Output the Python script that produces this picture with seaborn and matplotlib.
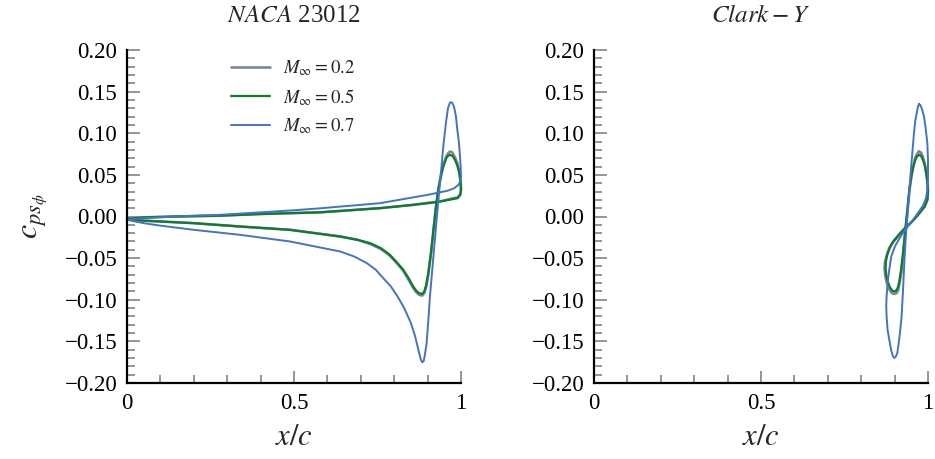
import matplotlib
matplotlib.use("Agg")
import matplotlib.pyplot as plt
from matplotlib.ticker import MultipleLocator, FuncFormatter
import seaborn as sns

# NACA 23012 paths (lower side 0 -> 1, then back along upper side 1 -> 0)
naca_x_m02 = [0.0, 0.05, 0.1, 0.2, 0.338, 0.488, 0.638, 0.69, 0.728, 0.76, 0.787, 0.81, 0.827,
              0.843, 0.857, 0.866, 0.874, 0.884, 0.890, 0.896, 0.902, 0.910, 0.917, 0.924,
              0.932, 0.940, 0.947, 0.957, 0.962, 0.967, 0.974, 0.982, 0.989, 0.995, 0.999,
              1.0, 0.998, 0.99, 0.977, 0.937, 0.857, 0.757, 0.578, 0.4, 0.278, 0.15, 0.05, 0.0]
naca_cp_m02 = [-0.003, -0.005, -0.006, -0.008, -0.012, -0.016, -0.024, -0.028, -0.033, -0.039,
               -0.047, -0.057, -0.065, -0.076, -0.086, -0.091, -0.094, -0.095, -0.092, -0.084,
               -0.070, -0.045, -0.019, 0.008, 0.033, 0.050, 0.062, 0.073, 0.076, 0.078, 0.077,
               0.071, 0.064, 0.054, 0.042, 0.033, 0.027, 0.023, 0.022, 0.018, 0.014, 0.010,
               0.005, 0.003, 0.001, 0.0, -0.001, -0.003]

naca_x_m05 = [0.0, 0.05, 0.1, 0.2, 0.338, 0.488, 0.638, 0.69, 0.728, 0.76, 0.787, 0.81, 0.827,
              0.843, 0.857, 0.866, 0.874, 0.884, 0.890, 0.896, 0.902, 0.910, 0.917, 0.924,
              0.932, 0.940, 0.947, 0.957, 0.962, 0.967, 0.974, 0.982, 0.989, 0.995, 0.999,
              1.0, 0.998, 0.99, 0.977, 0.937, 0.857, 0.757, 0.578, 0.4, 0.278, 0.15, 0.05, 0.0]
naca_cp_m05 = [-0.003, -0.005, -0.006, -0.008, -0.012, -0.016, -0.024, -0.028, -0.032, -0.038,
               -0.046, -0.056, -0.064, -0.074, -0.084, -0.089, -0.092, -0.093, -0.090, -0.082,
               -0.068, -0.044, -0.018, 0.008, 0.032, 0.048, 0.060, 0.071, 0.073, 0.074, 0.073,
               0.068, 0.061, 0.052, 0.040, 0.032, 0.026, 0.022, 0.021, 0.018, 0.014, 0.010,
               0.005, 0.003, 0.001, 0.0, -0.001, -0.003]

naca_x_m07 = [0.0, 0.05, 0.1, 0.2, 0.338, 0.488, 0.638, 0.68, 0.718, 0.745, 0.767, 0.79, 0.81,
              0.83, 0.85, 0.862, 0.870, 0.876, 0.880, 0.884, 0.888, 0.892, 0.897, 0.902,
              0.907, 0.917, 0.927, 0.937, 0.947, 0.955, 0.961, 0.967, 0.973, 0.979, 0.985,
              0.989, 0.994, 0.997, 0.999, 1.0, 0.998, 0.992, 0.98, 0.96, 0.937, 0.9, 0.857,
              0.8, 0.757, 0.7, 0.64, 0.578, 0.5, 0.4, 0.278, 0.2, 0.12, 0.05, 0.0]
naca_cp_m07 = [-0.004, -0.008, -0.011, -0.016, -0.022, -0.030, -0.042, -0.048, -0.056, -0.064,
               -0.074, -0.084, -0.096, -0.110, -0.128, -0.143, -0.156, -0.166, -0.172, -0.175,
               -0.174, -0.166, -0.152, -0.126, -0.096, -0.050, -0.004, 0.040, 0.084, 0.113,
               0.130, 0.137, 0.137, 0.132, 0.120, 0.104, 0.088, 0.072, 0.060, 0.048, 0.042,
               0.038, 0.034, 0.031, 0.029, 0.026, 0.023, 0.019, 0.016, 0.014, 0.012, 0.0098,
               0.0075, 0.005, 0.002, 0.001, -0.0005, -0.002, -0.004]

# Clark-Y closed loops near the trailing edge
clark_x_m02 = [0.973, 0.979, 0.985, 0.991, 0.996, 0.999, 1.0, 0.998, 0.99, 0.978, 0.966, 0.95,
               0.931, 0.912, 0.895, 0.884, 0.876, 0.871, 0.870, 0.872, 0.877, 0.885, 0.892,
               0.899, 0.906, 0.911, 0.915, 0.920, 0.925, 0.930, 0.935, 0.940, 0.945, 0.951,
               0.957, 0.962, 0.967, 0.973]
clark_cp_m02 = [0.078, 0.077, 0.071, 0.062, 0.050, 0.039, 0.030, 0.020, 0.012, 0.006, 0.0,
                -0.007, -0.014, -0.023, -0.031, -0.038, -0.047, -0.055, -0.063, -0.071, -0.080,
                -0.088, -0.092, -0.093, -0.092, -0.088, -0.080, -0.067, -0.049, -0.029, -0.008,
                0.012, 0.033, 0.050, 0.062, 0.071, 0.075, 0.078]

clark_x_m05 = [0.973, 0.979, 0.985, 0.991, 0.996, 0.999, 1.0, 0.998, 0.99, 0.978, 0.966, 0.95,
               0.931, 0.912, 0.896, 0.886, 0.878, 0.874, 0.873, 0.875, 0.879, 0.886, 0.893,
               0.899, 0.905, 0.910, 0.914, 0.919, 0.924, 0.929, 0.934, 0.939, 0.944, 0.950,
               0.956, 0.962, 0.967, 0.973]
clark_cp_m05 = [0.074, 0.073, 0.068, 0.060, 0.048, 0.038, 0.030, 0.020, 0.012, 0.006, 0.0,
                -0.007, -0.014, -0.022, -0.030, -0.037, -0.046, -0.054, -0.062, -0.070, -0.078,
                -0.085, -0.089, -0.090, -0.089, -0.085, -0.078, -0.065, -0.048, -0.028, -0.008,
                0.012, 0.032, 0.048, 0.060, 0.068, 0.072, 0.074]

clark_x_m07 = [0.973, 0.977, 0.982, 0.988, 0.993, 0.998, 1.0, 1.0, 0.998, 0.994, 0.985, 0.966,
               0.948, 0.931, 0.915, 0.901, 0.890, 0.884, 0.879, 0.876, 0.875, 0.876, 0.879,
               0.884, 0.890, 0.895, 0.899, 0.904, 0.908, 0.911, 0.916, 0.921, 0.925, 0.929,
               0.933, 0.938, 0.943, 0.948, 0.953, 0.958, 0.962, 0.966, 0.970, 0.973]
clark_cp_m07 = [0.135, 0.134, 0.129, 0.120, 0.106, 0.088, 0.068, 0.048, 0.032, 0.022, 0.013,
                0.002, -0.008, -0.016, -0.026, -0.036, -0.048, -0.064, -0.080, -0.096, -0.108,
                -0.120, -0.136, -0.148, -0.161, -0.168, -0.170, -0.168, -0.164, -0.156, -0.140,
                -0.120, -0.090, -0.056, -0.028, 0.0, 0.026, 0.052, 0.076, 0.100, 0.115, 0.124,
                0.132, 0.135]

mach_labels = [r"$M_\infty = 0.2$", r"$M_\infty = 0.5$", r"$M_\infty = 0.7$"]
colors = ["#7a8898", "#0f7a30", "#4473c0"]
widths = [1.9, 1.6, 1.4]
titles = [r"$NACA$ 23012", r"$Clark-Y$"]

sns.set_theme(style="ticks")
plt.rcParams["font.family"] = ["Liberation Serif", "DejaVu Serif"]
plt.rcParams["mathtext.fontset"] = "stix"
plt.rcParams["axes.unicode_minus"] = True

fig = plt.figure(figsize=(9.35, 4.59), dpi=100)
ax1 = fig.add_axes([127 / 935, 76 / 459, 334 / 935, 333 / 459])
ax2 = fig.add_axes([594 / 935, 76 / 459, 334 / 935, 333 / 459])

curves = [
    [(naca_x_m02, naca_cp_m02), (naca_x_m05, naca_cp_m05), (naca_x_m07, naca_cp_m07)],
    [(clark_x_m02, clark_cp_m02), (clark_x_m05, clark_cp_m05), (clark_x_m07, clark_cp_m07)],
]


def fmt_y(v, pos):
    s = "%.2f" % v
    if s == "-0.00":
        s = "0.00"
    return s.replace("-", "\u2212")


def fmt_x(v, pos):
    return "%g" % v


for i, ax in enumerate([ax1, ax2]):
    for j, (xs, ys) in enumerate(curves[i]):
        sns.lineplot(x=xs, y=ys, sort=False, estimator=None, color=colors[j],
                     linewidth=widths[j], label=mach_labels[j] if i == 0 else None,
                     legend=False, ax=ax, clip_on=False)
    ax.set_xlim(0, 1)
    ax.set_ylim(-0.2, 0.2)
    ax.xaxis.set_major_locator(MultipleLocator(0.5))
    ax.xaxis.set_minor_locator(MultipleLocator(0.1))
    ax.yaxis.set_major_locator(MultipleLocator(0.05))
    ax.yaxis.set_minor_locator(MultipleLocator(0.01))
    ax.yaxis.set_major_formatter(FuncFormatter(fmt_y))
    ax.xaxis.set_major_formatter(FuncFormatter(fmt_x))
    ax.tick_params(which="both", direction="in", colors="#8c8c8c", labelcolor="black",
                   labelsize=16.5, width=1.3)
    ax.tick_params(which="major", length=9, pad=7)
    ax.tick_params(which="minor", length=6)
    for side in ["top", "right"]:
        ax.spines[side].set_visible(False)
    for side in ["left", "bottom"]:
        ax.spines[side].set_color("black")
        ax.spines[side].set_linewidth(1.6)
    ax.set_xlabel(r"$x/c$", fontsize=22, labelpad=7)
    ax.set_title(titles[i], fontsize=18, pad=20)
    ax.set_facecolor("white")

ax1.set_ylabel(r"$c_{ps_\phi}$", fontsize=23, labelpad=11)
ax2.set_ylabel("")

handles, labels = ax1.get_legend_handles_labels()
ax1.legend(handles, labels, loc="upper left", bbox_to_anchor=(0.31, 0.975), frameon=False,
           fontsize=13.5, handlelength=2.1, handletextpad=0.7, labelspacing=0.48,
           borderpad=0, borderaxespad=0)

fig.savefig("out.png", dpi=100, facecolor="white")
